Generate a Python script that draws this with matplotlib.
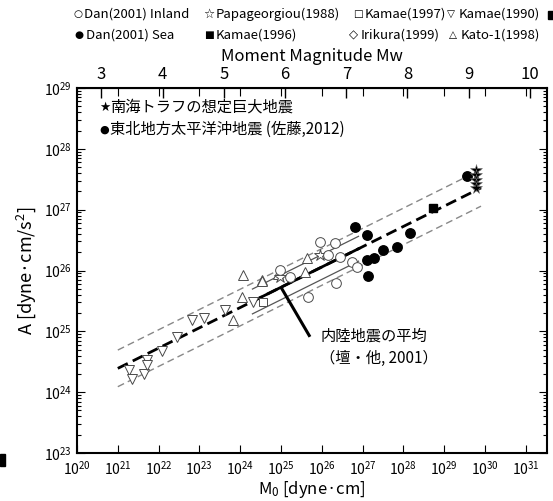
import numpy as np
import matplotlib
matplotlib.use("Agg")
import matplotlib.pyplot as plt
from matplotlib.patches import Rectangle

plt.rcParams['font.family'] = ['Noto Sans CJK JP', 'DejaVu Sans']
plt.rcParams['mathtext.fontset'] = 'custom'
plt.rcParams['mathtext.rm'] = 'Noto Sans CJK JP'
plt.rcParams['mathtext.it'] = 'Noto Sans CJK JP'

# ---- data (log10 values) ----
kamae1990_logm = [21.28, 21.34, 21.63, 21.71, 21.71, 22.08, 22.44, 22.81, 23.11, 23.63, 24.32]
kamae1990_loga = [24.36, 24.22, 24.30, 24.53, 24.45, 24.67, 24.90, 25.19, 25.22, 25.35, 25.49]

kato_logm = [23.83, 24.04, 24.08, 24.53, 24.53, 24.93, 25.59, 25.63]
kato_loga = [25.19, 25.57, 25.93, 25.84, 25.82, 25.95, 25.98, 26.20]

papa_logm = [24.98, 25.96]
papa_loga = [25.90, 26.25]

kamae1997_logm = [24.57]
kamae1997_loga = [25.49]

inland_logm = [24.98, 25.22, 25.67, 25.96, 26.16, 26.32, 26.36, 26.45, 26.73, 26.86]
inland_loga = [26.01, 25.90, 25.57, 26.47, 26.25, 26.45, 25.79, 26.23, 26.14, 26.06]

sea_logm = [26.81, 27.10, 27.10, 27.14, 27.29, 27.51, 27.85, 28.15, 29.57]
sea_loga = [26.71, 26.59, 26.17, 25.91, 26.20, 26.34, 26.38, 26.62, 27.55]

kamae1996_logm = [28.72]
kamae1996_loga = [27.02]

nankai_logm = [29.78, 29.78, 29.78, 29.78, 29.78]
nankai_loga = [27.66, 27.57, 27.48, 27.42, 27.35]

# Dan et al. (2001): A = 2.46e17 * M0^(1/3)
dan_coef = 2.46e17
line_range = [1e21, 8e29]
sigma_range = [10**24.3, 10**26.9]

mw_ticks = [3, 4, 5, 6, 7, 8, 9, 10]
x_decades = list(range(20, 32))
y_decades = list(range(23, 30))

legend_row1 = [('○', 'Dan(2001) Inland'), ('☆', 'Papageorgiou(1988)'),
               ('□', 'Kamae(1997)'), ('▽', 'Kamae(1990)')]
legend_row2 = [('●', 'Dan(2001) Sea'), ('■', 'Kamae(1996)'),
               ('◇', 'Irikura(1999)'), ('△', 'Kato-1(1998)')]
symbol_sizes1 = [7.5, 9, 7.5, 7.5]
symbol_sizes2 = [7.5, 7.5, 8.5, 7.5]


def p(v):
    return 10 ** np.asarray(v, dtype=float)


fig = plt.figure(figsize=(5.53, 5.01), dpi=100)
ax = fig.add_axes([77 / 553, 48 / 501, 470 / 553, 365 / 501])
ax.set_xscale('log')
ax.set_yscale('log')
ax.set_xlim(1e20, 10 ** 31.52)
ax.set_ylim(1e23, 1e29)

# reference lines
m = np.logspace(np.log10(line_range[0]), np.log10(line_range[1]), 50)
a = dan_coef * m ** (1 / 3)
ax.plot(m, a * 2, color='#888888', lw=1.0, ls=(0, (5, 3)))
ax.plot(m, a / 2, color='#888888', lw=1.0, ls=(0, (5, 3)))
ax.plot(m, a, color='black', lw=2.0, ls=(0, (4, 2)))
ms = np.logspace(np.log10(sigma_range[0]), np.log10(sigma_range[1]), 30)
as_ = dan_coef * ms ** (1 / 3)
ax.plot(ms, as_, color='black', lw=2.0)
ax.plot(ms, as_ * 1.6, color='#555555', lw=0.9)
ax.plot(ms, as_ / 1.6, color='#555555', lw=0.9)

# data markers
edge = '#4a4a4a'
ax.plot(p(kamae1990_logm), p(kamae1990_loga), marker='v', mfc='white', mec=edge, ls='none', ms=6.5, mew=0.7)
ax.plot(p(kato_logm), p(kato_loga), marker='^', mfc='white', mec=edge, ls='none', ms=6.5, mew=0.7)
ax.plot(p(papa_logm), p(papa_loga), marker='*', mfc='white', mec=edge, ls='none', ms=9, mew=0.7)
ax.plot(p(kamae1997_logm), p(kamae1997_loga), marker='s', mfc='white', mec=edge, ls='none', ms=5.5, mew=0.7)
ax.plot(p(inland_logm), p(inland_loga), marker='o', mfc='white', mec=edge, ls='none', ms=7, mew=0.7)
ax.plot(p(sea_logm), p(sea_loga), marker='o', color='black', ls='none', ms=6.8)
ax.plot(p(kamae1996_logm), p(kamae1996_loga), marker='s', color='black', ls='none', ms=6)
ax.plot(p(nankai_logm), p(nankai_loga), marker='*', color='black', mec='#777777', ls='none', ms=8.5, mew=0.4)

# annotation line from the mean curve and its label
ann_m = [1e25, 10 ** 25.71]
ann_a = [dan_coef * 1e25 ** (1 / 3), 10 ** 24.91]
ax.plot(ann_m, ann_a, color='black', lw=2.2, solid_capstyle='butt')
ax.text(10 ** 25.96, 10 ** 24.74, '内陸地震の平均\n（壇・他, 2001）', fontsize=11,
        ha='left', va='center', linespacing=1.4)

# inset legend text
for yy, sym, sz, txt in [(0.947, '★', 9, '南海トラフの想定巨大地震'),
                         (0.887, '●', 8, '東北地方太平洋沖地震 (佐藤,2012)')]:
    ax.text(0.047, yy, sym, transform=ax.transAxes, fontsize=sz, va='center', ha='left',
            family='DejaVu Sans')
    ax.text(0.071, yy, txt, transform=ax.transAxes, fontsize=11, va='center')

# axes formatting
ax.set_xticks([10.0 ** d for d in x_decades])
ax.set_xticklabels([f'$10^{{{d}}}$' for d in x_decades])
ax.set_yticks([10.0 ** d for d in y_decades])
ax.set_yticklabels([f'$10^{{{d}}}$' for d in y_decades])
ax.tick_params(which='both', direction='in', top=True, right=True, labelsize=10, width=0.8)
ax.tick_params(which='major', length=6)
ax.tick_params(axis='x', which='major', pad=5)
ax.tick_params(which='minor', length=3)
for s in ax.spines.values():
    s.set_linewidth(1.5)
ax.set_xlabel('M$_0$ [dyne·cm]', fontsize=12, labelpad=1)
ax.set_ylabel('A [dyne·cm/s$^2$]', fontsize=13, labelpad=4)

sec = ax.secondary_xaxis('top', functions=(lambda x: (np.log10(np.maximum(x, 1e-300)) - 16.1) / 1.5,
                                           lambda w: 10 ** (1.5 * np.asarray(w) + 16.1)))
sec.set_xscale('linear')
sec.set_xticks(mw_ticks)
sec.tick_params(direction='in', length=7, width=1.0, labelsize=12)
sec.set_xlabel('Moment Magnitude Mw', fontsize=12, labelpad=4)

# top legend rows (symbol x, text x in pixels)
row1_x = [(73, 84), (203, 216), (353, 365), (447, 459)]
row2_x = [(74, 86), (204, 216), (349, 361), (449, 461)]
for (sx, tx), (sym, txt), sz in zip(row1_x, legend_row1, symbol_sizes1):
    fig.text(sx / 553, 1 - 14 / 501, sym, fontsize=sz, va='center', family='DejaVu Sans')
    fig.text(tx / 553, 1 - 14 / 501, txt, fontsize=9.5, va='center')
for (sx, tx), (sym, txt), sz in zip(row2_x, legend_row2, symbol_sizes2):
    fig.text(sx / 553, 1 - 35 / 501, sym, fontsize=sz, va='center', family='DejaVu Sans')
    fig.text(tx / 553, 1 - 35 / 501, txt, fontsize=9.5, va='center')

fig.add_artist(Rectangle((548 / 553, 1 - 19 / 501), 6 / 553, 8 / 501, color='black',
                         transform=fig.transFigure))
fig.add_artist(Rectangle((0, 1 - 466 / 501), 5 / 553, 12 / 501, color='black',
                         transform=fig.transFigure))

fig.savefig('out.png', dpi=100)
